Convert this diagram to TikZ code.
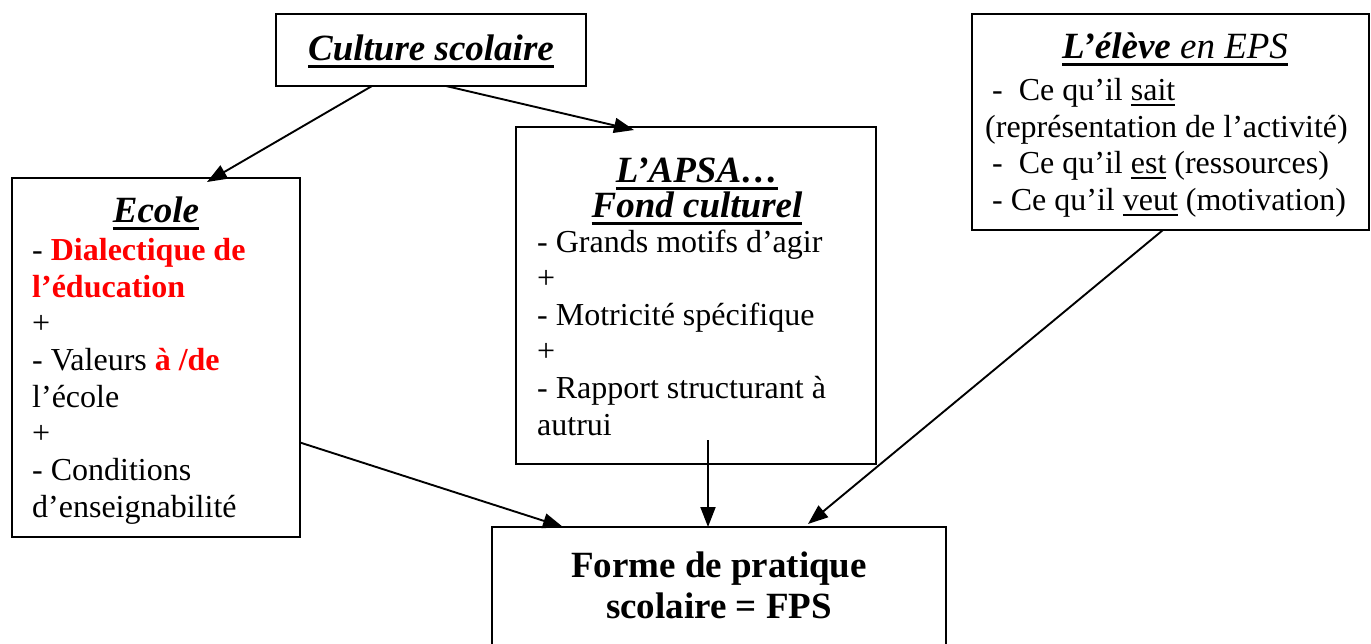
\documentclass[tikz,border=0pt]{standalone}
\usepackage{fontspec}
\setmainfont{Liberation Serif}
\usetikzlibrary{arrows.meta,calc}
\definecolor{hired}{RGB}{255,0,0}
\newsavebox\ulbox
\newcommand\hul[1]{\sbox\ulbox{#1}\rlap{\rule[-8pt]{\wd\ulbox}{3.5pt}}\usebox\ulbox}
\newcommand\tul[1]{\sbox\ulbox{#1}\rlap{\rule[-5.5pt]{\wd\ulbox}{1.6pt}}\usebox\ulbox}
\tikzset{
  box/.style={draw, line width=2pt, anchor=north west, inner sep=0pt, outer sep=0pt},
  body/.style={anchor=base west, inner sep=0pt, font=\fontsize{32}{36}\selectfont},
  head/.style={anchor=base, inner sep=0pt, font=\fontsize{37}{40}\selectfont\bfseries\itshape},
  big/.style={anchor=base, inner sep=0pt, font=\fontsize{37}{40}\selectfont\bfseries},
  arr/.style={line width=1.9pt, -{Triangle[length=20pt,width=15pt]}}
}
\begin{document}
\begin{tikzpicture}[x=1pt,y=-1pt]
\useasboundingbox (0,0) rectangle (1371,643);
\clip (0,0) rectangle (1371,643);
\fill[white] (0,0) rectangle (1371,643);
% boxes
\node[box, minimum width=310pt, minimum height=72pt] (culture) at (276,14) {};
\node[box, minimum width=288pt, minimum height=359pt] (ecole) at (12,178) {};
\node[box, minimum width=360pt, minimum height=337pt] (apsa) at (516,127) {};
\node[box, minimum width=397pt, minimum height=216pt] (eleve) at (972,14) {};
\node[box, minimum width=454pt, minimum height=140pt] (forme) at (492,527) {};
% Culture
\node[head] (tc) at (431,60) {\hul{Culture scolaire}};
% Ecole
\node[head] (te) at (156,222) {\hul{Ecole}};
\node[body] (e1) at (32,260) {- \textcolor{hired}{\bfseries Dialectique de}};
\node[body] (e2) at (32,297) {\textcolor{hired}{\bfseries l’éducation}};
\node[body] (e3) at (32,333) {+};
\node[body] (e4) at (32,370) {- Valeurs \textcolor{hired}{\bfseries à /de}};
\node[body] (e5) at (32,407) {l’école};
\node[body] (e6) at (32,443) {+};
\node[body] (e7) at (32,480) {- Conditions};
\node[body] (e8) at (32,517) {d’enseignabilité};
% APSA
\node[head] (ta1) at (697,182) {\hul{L’APSA…}};
\node[head] (ta2) at (697,217) {\hul{Fond culturel}};
\node[body] (a1) at (537,252) {- Grands motifs d’agir};
\node[body] (a2) at (537,288) {+};
\node[body] (a3) at (537,325) {- Motricité spécifique};
\node[body] (a4) at (537,361) {+};
\node[body] (a5) at (537,398) {- Rapport structurant à};
\node[body] (a6) at (537,435) {autrui};
% Eleve
\node[head] (tv) at (1175,58) {\hul{L’élève \mdseries en EPS}};
\node[body] (v1) at (992,100) {-\ \ Ce qu’il \tul{sait}};
\node[body] (v2) at (985,137) {(représentation de l’activité)};
\node[body] (v3) at (992,173) {-\ \ Ce qu’il \tul{est} (ressources)};
\node[body] (v4) at (992,210) {- Ce qu’il \tul{veut} (motivation)};
% Forme
\node[big] (tf1) at (719,577) {Forme de pratique};
\node[big] (tf2) at (719,618) {scolaire = FPS};
% arrows
\draw[arr] ([xshift=-59pt]culture.south) -- ([xshift=51pt,yshift=-4pt]ecole.north);
\draw[arr] ([xshift=15pt]culture.south) -- ([xshift=-62pt,yshift=-3pt]apsa.north);
\draw[arr] ([yshift=-85pt]ecole.east) -- ([xshift=-156pt]forme.north);
\draw[arr] ([xshift=12pt,yshift=24pt]apsa.south) -- ([xshift=-11pt]forme.north);
\draw[arr] ([xshift=-7.5pt]eleve.south) -- ([xshift=89pt,yshift=3pt]forme.north);
\end{tikzpicture}
\end{document}
